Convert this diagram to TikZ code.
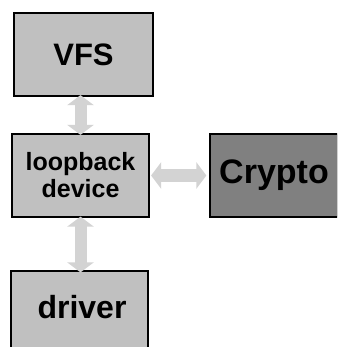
\documentclass[tikz,border=0pt]{standalone}
\usepackage{fontspec}
\setmainfont{Liberation Sans}
\usetikzlibrary{arrows.meta}
\definecolor{boxgray}{HTML}{C0C0C0}
\definecolor{darkgray2}{HTML}{808080}
\definecolor{arrgray}{HTML}{D3D3D3}
\begin{document}
\begin{tikzpicture}[x=1pt,y=-1pt,
  blk/.style={draw=black,line width=1.2pt,fill=boxgray,inner sep=0pt,font=\bfseries,align=center},
  dbl/.style={draw=arrgray,line width=12pt,{Triangle[width=26pt,length=10pt]}-{Triangle[width=26pt,length=10pt]}}]
\useasboundingbox (0,0) rectangle (337,347);
\clip (0,0) rectangle (337,347);
\node[blk,minimum width=139pt,minimum height=83pt,font=\bfseries\fontsize{31}{36}\selectfont] (vfs) at (83.5,54.5) {VFS};
\node[blk,minimum width=137pt,minimum height=83pt,font=\bfseries\fontsize{25}{27}\selectfont] (loop) at (80.5,175.5) {loopback\\device};
\node[blk,fill=darkgray2,minimum width=128pt,minimum height=83pt,font=\bfseries\fontsize{34}{36}\selectfont] (crypto) at (274,175.5) {Crypto};
\node[blk,minimum width=137pt,minimum height=100pt] (drv) at (79.5,321) {};
\node[font=\bfseries\fontsize{32}{36}\selectfont] (drvtxt) at (82,307) {driver};
\draw[dbl] ([yshift=1.5pt]vfs.south -| loop.north) -- ([yshift=-1.5pt]loop.north);
\draw[dbl] ([yshift=1pt]loop.south) -- ([yshift=-2pt]drv.north -| loop.south);
\draw[dbl] ([xshift=1.5pt]loop.east) -- ([xshift=-3pt]crypto.west);
\end{tikzpicture}
\end{document}
